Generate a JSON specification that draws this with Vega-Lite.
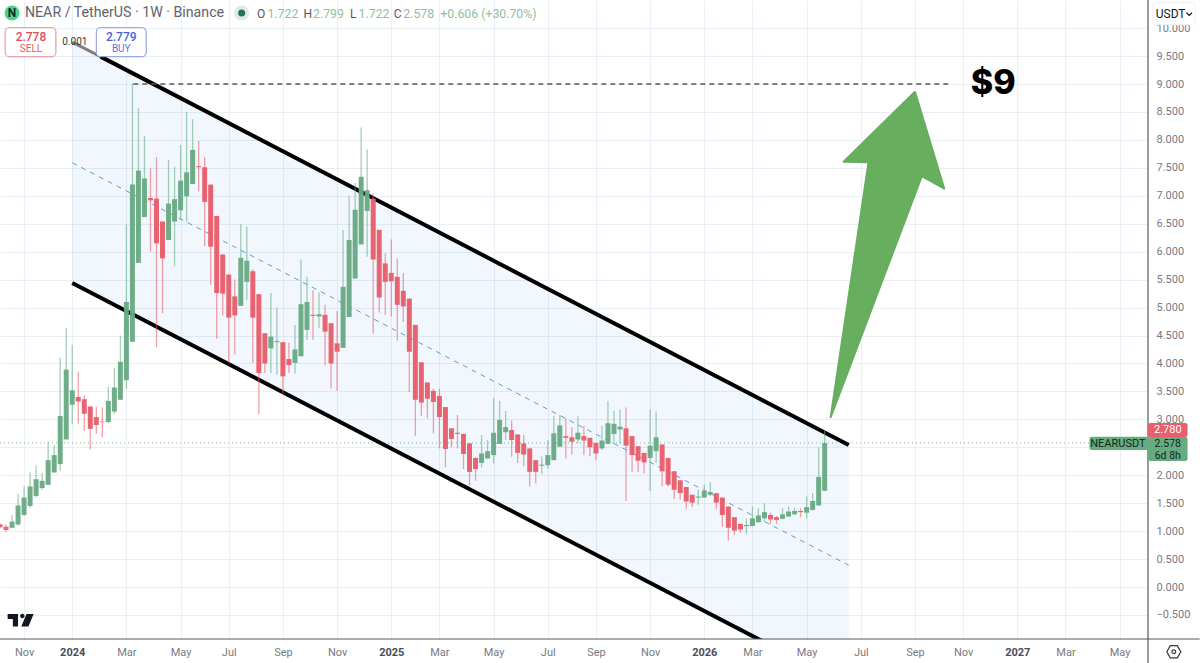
{
"$schema":"https://vega.github.io/schema/vega-lite/v6.json",
"width":1148,"height":639,
"autosize":{"type":"none"},
"padding":{"left":0,"top":0,"right":52,"bottom":24},
"background":"white",
"config":{"view":{"stroke":null},"text":{"font":"Roboto"}},
"datasets":{
"candles":[
{"date":"2023-10-09","o":1.12,"h":1.14,"l":1.05,"c":1.07},
{"date":"2023-10-16","o":1.08,"h":1.12,"l":0.98,"c":1.02},
{"date":"2023-10-23","o":1.06,"h":1.29,"l":1.05,"c":1.17},
{"date":"2023-10-30","o":1.12,"h":1.67,"l":1.10,"c":1.46},
{"date":"2023-11-06","o":1.29,"h":1.80,"l":1.27,"c":1.60},
{"date":"2023-11-13","o":1.45,"h":2.05,"l":1.42,"c":1.80},
{"date":"2023-11-20","o":1.63,"h":2.18,"l":1.60,"c":1.93},
{"date":"2023-11-27","o":1.77,"h":2.04,"l":1.74,"c":1.90},
{"date":"2023-12-04","o":1.83,"h":2.61,"l":1.82,"c":2.27},
{"date":"2023-12-11","o":2.05,"h":2.54,"l":2.05,"c":2.36},
{"date":"2023-12-18","o":2.20,"h":4.10,"l":2.08,"c":3.06},
{"date":"2023-12-25","o":2.64,"h":4.63,"l":2.64,"c":3.89},
{"date":"2024-01-01","o":3.26,"h":4.33,"l":2.91,"c":3.52},
{"date":"2024-01-08","o":3.40,"h":3.85,"l":2.92,"c":3.32},
{"date":"2024-01-15","o":3.36,"h":3.43,"l":2.79,"c":3.10},
{"date":"2024-01-22","o":3.23,"h":3.23,"l":2.46,"c":2.83},
{"date":"2024-01-29","o":3.04,"h":3.23,"l":2.74,"c":2.90},
{"date":"2024-02-05","o":2.96,"h":3.21,"l":2.68,"c":2.95},
{"date":"2024-02-12","o":2.95,"h":3.58,"l":2.94,"c":3.33},
{"date":"2024-02-19","o":3.14,"h":3.92,"l":3.10,"c":3.57},
{"date":"2024-02-26","o":3.35,"h":4.50,"l":3.35,"c":4.03},
{"date":"2024-03-04","o":3.70,"h":6.49,"l":3.54,"c":5.10},
{"date":"2024-03-11","o":4.39,"h":9.01,"l":4.39,"c":7.20},
{"date":"2024-03-18","o":5.80,"h":8.57,"l":5.80,"c":7.45},
{"date":"2024-03-25","o":6.62,"h":8.07,"l":6.62,"c":7.31},
{"date":"2024-04-01","o":6.96,"h":7.49,"l":6.00,"c":6.92},
{"date":"2024-04-08","o":6.95,"h":7.69,"l":4.29,"c":6.15},
{"date":"2024-04-15","o":6.54,"h":6.54,"l":4.90,"c":5.88},
{"date":"2024-04-22","o":6.21,"h":7.64,"l":6.21,"c":6.86},
{"date":"2024-04-29","o":6.54,"h":7.52,"l":5.74,"c":6.94},
{"date":"2024-05-06","o":6.74,"h":7.91,"l":6.57,"c":7.27},
{"date":"2024-05-13","o":6.99,"h":8.50,"l":6.54,"c":7.42},
{"date":"2024-05-20","o":7.21,"h":8.37,"l":7.21,"c":7.82},
{"date":"2024-05-27","o":7.53,"h":7.98,"l":7.08,"c":7.51},
{"date":"2024-06-03","o":7.51,"h":7.69,"l":6.10,"c":6.89},
{"date":"2024-06-10","o":7.20,"h":7.20,"l":5.41,"c":6.09},
{"date":"2024-06-17","o":6.64,"h":6.64,"l":4.44,"c":5.26},
{"date":"2024-06-24","o":5.95,"h":5.95,"l":4.86,"c":5.25},
{"date":"2024-07-01","o":5.59,"h":5.59,"l":4.01,"c":4.82},
{"date":"2024-07-08","o":5.20,"h":5.50,"l":4.16,"c":4.86},
{"date":"2024-07-15","o":5.03,"h":6.49,"l":5.03,"c":5.89},
{"date":"2024-07-22","o":5.46,"h":6.45,"l":5.14,"c":5.84},
{"date":"2024-07-29","o":5.65,"h":5.69,"l":4.01,"c":4.82},
{"date":"2024-08-05","o":5.24,"h":5.24,"l":3.09,"c":3.83},
{"date":"2024-08-12","o":4.54,"h":4.54,"l":3.83,"c":4.00},
{"date":"2024-08-19","o":4.27,"h":5.26,"l":3.83,"c":4.48},
{"date":"2024-08-26","o":4.38,"h":5.00,"l":3.80,"c":4.40},
{"date":"2024-09-02","o":4.38,"h":4.38,"l":3.45,"c":3.77},
{"date":"2024-09-09","o":4.08,"h":4.37,"l":3.83,"c":3.97},
{"date":"2024-09-16","o":4.01,"h":4.69,"l":3.82,"c":4.25},
{"date":"2024-09-23","o":4.13,"h":5.86,"l":4.13,"c":5.06},
{"date":"2024-09-30","o":4.60,"h":5.55,"l":4.42,"c":5.10},
{"date":"2024-10-07","o":4.87,"h":5.31,"l":4.42,"c":4.85},
{"date":"2024-10-14","o":4.84,"h":5.27,"l":4.63,"c":4.88},
{"date":"2024-10-21","o":4.87,"h":5.05,"l":3.97,"c":4.57},
{"date":"2024-10-28","o":4.72,"h":4.72,"l":3.55,"c":4.00},
{"date":"2024-11-04","o":4.36,"h":4.94,"l":3.51,"c":4.21},
{"date":"2024-11-11","o":4.28,"h":6.39,"l":4.28,"c":5.37},
{"date":"2024-11-18","o":4.83,"h":7.00,"l":4.83,"c":6.21},
{"date":"2024-11-25","o":5.52,"h":7.23,"l":5.52,"c":6.75},
{"date":"2024-12-02","o":6.13,"h":8.22,"l":6.13,"c":7.34},
{"date":"2024-12-09","o":6.73,"h":7.83,"l":5.91,"c":7.10},
{"date":"2024-12-16","o":6.95,"h":7.04,"l":4.53,"c":5.86},
{"date":"2024-12-23","o":6.39,"h":6.39,"l":4.91,"c":5.18},
{"date":"2024-12-30","o":5.79,"h":5.97,"l":4.87,"c":5.46},
{"date":"2025-01-06","o":5.62,"h":6.22,"l":4.84,"c":5.47},
{"date":"2025-01-13","o":5.55,"h":5.88,"l":4.41,"c":5.05},
{"date":"2025-01-20","o":5.30,"h":5.62,"l":4.74,"c":5.02},
{"date":"2025-01-27","o":5.16,"h":5.16,"l":3.49,"c":4.21},
{"date":"2025-02-03","o":4.69,"h":4.69,"l":2.70,"c":3.35},
{"date":"2025-02-10","o":4.02,"h":4.02,"l":3.06,"c":3.30},
{"date":"2025-02-17","o":3.66,"h":3.66,"l":3.02,"c":3.37},
{"date":"2025-02-24","o":3.51,"h":3.55,"l":2.75,"c":3.31},
{"date":"2025-03-03","o":3.42,"h":3.55,"l":2.48,"c":3.04},
{"date":"2025-03-10","o":3.22,"h":3.22,"l":2.14,"c":2.47},
{"date":"2025-03-17","o":2.84,"h":2.84,"l":2.50,"c":2.65},
{"date":"2025-03-24","o":2.76,"h":3.08,"l":2.48,"c":2.74},
{"date":"2025-03-31","o":2.74,"h":2.74,"l":2.11,"c":2.38},
{"date":"2025-04-07","o":2.57,"h":2.57,"l":1.82,"c":2.06},
{"date":"2025-04-14","o":2.31,"h":2.31,"l":1.90,"c":2.11},
{"date":"2025-04-21","o":2.22,"h":2.72,"l":2.14,"c":2.39},
{"date":"2025-04-28","o":2.30,"h":2.63,"l":2.30,"c":2.43},
{"date":"2025-05-05","o":2.36,"h":3.38,"l":2.21,"c":2.76},
{"date":"2025-05-12","o":2.56,"h":3.33,"l":2.56,"c":2.99},
{"date":"2025-05-19","o":2.77,"h":3.15,"l":2.63,"c":2.86},
{"date":"2025-05-26","o":2.81,"h":2.98,"l":2.33,"c":2.63},
{"date":"2025-06-02","o":2.73,"h":2.73,"l":2.22,"c":2.40},
{"date":"2025-06-09","o":2.57,"h":2.72,"l":2.16,"c":2.37},
{"date":"2025-06-16","o":2.48,"h":2.48,"l":1.80,"c":2.06},
{"date":"2025-06-23","o":2.27,"h":2.27,"l":1.85,"c":2.06},
{"date":"2025-06-30","o":2.17,"h":2.34,"l":2.02,"c":2.19},
{"date":"2025-07-07","o":2.18,"h":2.63,"l":2.12,"c":2.36},
{"date":"2025-07-14","o":2.27,"h":3.06,"l":2.27,"c":2.75},
{"date":"2025-07-21","o":2.51,"h":3.08,"l":2.51,"c":2.89},
{"date":"2025-07-28","o":2.70,"h":3.02,"l":2.30,"c":2.67},
{"date":"2025-08-04","o":2.68,"h":2.86,"l":2.37,"c":2.60},
{"date":"2025-08-11","o":2.64,"h":3.05,"l":2.57,"c":2.76},
{"date":"2025-08-18","o":2.70,"h":2.88,"l":2.36,"c":2.62},
{"date":"2025-08-25","o":2.67,"h":2.67,"l":2.34,"c":2.50},
{"date":"2025-09-01","o":2.58,"h":2.58,"l":2.27,"c":2.39},
{"date":"2025-09-08","o":2.48,"h":2.88,"l":2.45,"c":2.62},
{"date":"2025-09-15","o":2.56,"h":3.33,"l":2.56,"c":2.93},
{"date":"2025-09-22","o":2.74,"h":3.15,"l":2.56,"c":2.92},
{"date":"2025-09-29","o":2.82,"h":3.17,"l":2.57,"c":2.87},
{"date":"2025-10-06","o":2.84,"h":3.21,"l":1.54,"c":2.53},
{"date":"2025-10-13","o":2.70,"h":2.70,"l":2.06,"c":2.36},
{"date":"2025-10-20","o":2.52,"h":2.52,"l":2.06,"c":2.26},
{"date":"2025-10-27","o":2.40,"h":2.40,"l":2.03,"c":2.23},
{"date":"2025-11-03","o":2.31,"h":3.18,"l":1.72,"c":2.53},
{"date":"2025-11-10","o":2.43,"h":3.14,"l":2.22,"c":2.68},
{"date":"2025-11-17","o":2.55,"h":2.55,"l":1.80,"c":2.07},
{"date":"2025-11-24","o":2.31,"h":2.31,"l":1.80,"c":1.83},
{"date":"2025-12-01","o":2.07,"h":2.07,"l":1.57,"c":1.74},
{"date":"2025-12-08","o":1.91,"h":1.91,"l":1.56,"c":1.68},
{"date":"2025-12-15","o":1.79,"h":1.79,"l":1.39,"c":1.53},
{"date":"2025-12-22","o":1.65,"h":1.65,"l":1.43,"c":1.51},
{"date":"2025-12-29","o":1.60,"h":1.74,"l":1.47,"c":1.62},
{"date":"2026-01-05","o":1.60,"h":1.83,"l":1.60,"c":1.72},
{"date":"2026-01-12","o":1.65,"h":1.88,"l":1.63,"c":1.70},
{"date":"2026-01-19","o":1.68,"h":1.68,"l":1.39,"c":1.51},
{"date":"2026-01-26","o":1.60,"h":1.60,"l":1.08,"c":1.29},
{"date":"2026-02-02","o":1.44,"h":1.44,"l":0.83,"c":1.06},
{"date":"2026-02-09","o":1.25,"h":1.25,"l":0.93,"c":1.01},
{"date":"2026-02-16","o":1.13,"h":1.13,"l":0.97,"c":1.03},
{"date":"2026-02-23","o":1.09,"h":1.23,"l":0.95,"c":1.11},
{"date":"2026-03-02","o":1.09,"h":1.44,"l":1.09,"c":1.23},
{"date":"2026-03-09","o":1.16,"h":1.41,"l":1.15,"c":1.28},
{"date":"2026-03-16","o":1.23,"h":1.50,"l":1.17,"c":1.34},
{"date":"2026-03-23","o":1.29,"h":1.33,"l":1.13,"c":1.21},
{"date":"2026-03-30","o":1.25,"h":1.27,"l":1.13,"c":1.20},
{"date":"2026-04-06","o":1.22,"h":1.41,"l":1.21,"c":1.30},
{"date":"2026-04-13","o":1.26,"h":1.44,"l":1.25,"c":1.35},
{"date":"2026-04-20","o":1.30,"h":1.42,"l":1.29,"c":1.36},
{"date":"2026-04-27","o":1.36,"h":1.41,"l":1.25,"c":1.34},
{"date":"2026-05-04","o":1.33,"h":1.62,"l":1.23,"c":1.43},
{"date":"2026-05-11","o":1.38,"h":1.68,"l":1.37,"c":1.54},
{"date":"2026-05-18","o":1.46,"h":2.50,"l":1.46,"c":1.97},
{"date":"2026-05-25","o":1.722,"h":2.799,"l":1.722,"c":2.578}
]
},
"encoding":{
"x":{"field":"date","type":"temporal","title":null,
"scale":{"type":"utc","domain":["2023-10-09","2027-06-05"],"padding":0},
"axis":{"orient":"bottom","domain":false,"ticks":false,"grid":true,"gridColor":"#e9eff5","gridWidth":1,
"labelFont":"Roboto","labelFontSize":11,"labelPadding":7,"labelOverlap":false,"labelFlush":false,"labelBound":false,
"labelColor":{"condition":{"test":"utcmonth(datum.value)==0","value":"#4a4d55"},"value":"#777a84"},
"labelFontWeight":{"condition":{"test":"utcmonth(datum.value)==0","value":"bold"},"value":"normal"},
"labelExpr":"utcmonth(datum.value)==0 ? utcFormat(datum.value,'%Y') : utcFormat(datum.value,'%b')",
"values":["2023-11-06","2024-01-01","2024-03-04","2024-05-06","2024-07-01","2024-09-02","2024-11-04","2025-01-06","2025-03-03","2025-05-05","2025-07-07","2025-09-01","2025-11-03","2026-01-05","2026-03-02","2026-05-04","2026-07-06","2026-09-07","2026-11-02","2027-01-04","2027-03-01","2027-05-03"]}},
"y":{"field":"v","type":"quantitative","title":null,
"scale":{"domain":[-0.93,10.503],"nice":false,"zero":false},
"axis":{"orient":"right","domain":false,"ticks":false,"grid":true,"gridColor":"#e9eff5","gridWidth":1,
"labelFont":"Roboto","labelFontSize":11,"labelPadding":8,"labelColor":"#777a84","labelOverlap":false,"labelFlush":false,"labelBound":false,
"labelExpr":"datum.value==2.5 ? '' : format(datum.value,'.3f')",
"values":[-0.5,0,0.5,1,1.5,2,2.5,3,3.5,4,4.5,5,5.5,6,6.5,7,7.5,8,8.5,9,9.5,10]}}
},
"layer":[
{"data":{"values":[{"date":"2024-01-01","v":9.75,"v2":5.44},{"date":"2026-06-22","v":2.54,"v2":-1.77}]},
 "mark":{"type":"area","clip":true,"fill":"#4f9be8","opacity":0.08},
 "encoding":{"y2":{"field":"v2"}}},
{"data":{"values":[{"date":"2024-01-01","v":7.59},{"date":"2026-06-22","v":0.39}]},
 "mark":{"type":"line","stroke":"#5f9fcb","strokeWidth":1,"strokeDash":[5,5]}},
{"data":{"values":[{"date":"2023-10-09","v":2.578},{"date":"2027-03-29","v":2.578}]},
 "mark":{"type":"line","stroke":"#7fb598","strokeWidth":1,"strokeDash":[1,3]}},
{"data":{"values":[{"date":"2024-01-01","v":9.75},{"date":"2024-02-03","v":9.49}]},
 "mark":{"type":"line","stroke":"#808080","strokeWidth":3}},
{"data":{"values":[{"line":"upper","date":"2024-02-03","v":9.49},{"line":"upper","date":"2026-06-22","v":2.54},{"line":"lower","date":"2024-01-01","v":5.44},{"line":"lower","date":"2026-06-22","v":-1.77}]},
 "mark":{"type":"line","stroke":"#000000","strokeWidth":4,"clip":true},
 "encoding":{"detail":{"field":"line"}}},
{"data":{"name":"candles"},
 "mark":{"type":"rule","strokeWidth":1.3,"opacity":0.58},
 "encoding":{"y":{"field":"l","type":"quantitative","title":null,"scale":{"domain":[-0.93,10.503],"nice":false,"zero":false}},"y2":{"field":"h"},
 "color":{"condition":{"test":"datum.c>=datum.o","value":"#68aa84"},"value":"#e85d6a"}}},
{"data":{"name":"candles"},
 "mark":{"type":"bar","size":5,"opacity":0.95},
 "encoding":{"y":{"field":"o","type":"quantitative","title":null,"scale":{"domain":[-0.93,10.503],"nice":false,"zero":false}},"y2":{"field":"c"},
 "color":{"condition":{"test":"datum.c>=datum.o","value":"#68aa84"},"value":"#e85d6a"}}},
{"data":{"values":[{"date":"2024-03-12","v":9.0},{"date":"2026-10-20","v":9.0}]},
 "mark":{"type":"line","stroke":"#55585f","strokeWidth":1.3,"strokeDash":[5,4]}},
{"data":{"values":[{"ord":1,"date":"2026-09-07","v":8.86},{"ord":2,"date":"2026-10-11","v":7.13},{"ord":3,"date":"2026-09-15","v":7.35},{"ord":4,"date":"2026-06-01","v":3.04},{"ord":5,"date":"2026-07-15","v":7.60},{"ord":6,"date":"2026-06-16","v":7.61},{"ord":7,"date":"2026-09-07","v":8.86}]},
 "mark":{"type":"line","fill":"#67ae5f","stroke":"#67ae5f","strokeWidth":2,"strokeJoin":"round"},
 "encoding":{"order":{"field":"ord"}}},
{"data":{"values":[{"date":"2026-12-07","v":9.0,"t":"$9"}]},
 "mark":{"type":"text","font":"Inter","fontWeight":800,"fontSize":34,"color":"#000000","align":"center","baseline":"middle"},
 "encoding":{"text":{"field":"t"}}},
{"data":{"values":[{"date":"2027-06-05","v":10.503,"v2":-1.36}]},
 "mark":{"type":"rule","color":"#55585f","strokeWidth":1.2,"clip":false},
 "encoding":{"y2":{"field":"v2"}}},
{"data":{"values":[{"date":"2023-10-09","date2":"2027-08-04","v":-0.93}]},
 "mark":{"type":"rule","color":"#55585f","strokeWidth":1.2,"clip":false},
 "encoding":{"x2":{"field":"date2"}}},
{"data":{"values":[{"date":"2027-06-10","date2":"2027-07-30","v":10.46,"v2":10.06}]},
 "mark":{"type":"rect","fill":"#ffffff","stroke":"#eef0f3","cornerRadius":4,"clip":false},
 "encoding":{"x2":{"field":"date2"},"y2":{"field":"v2"}}},
{"data":{"values":[{"date":"2027-06-14","v":10.247,"t":"USDT"}]},
 "mark":{"type":"text","fontSize":12,"color":"#131722","align":"left","baseline":"middle"},
 "encoding":{"text":{"field":"t"}}},
{"data":{"values":[{"date":"2027-07-23","v":10.25}]},
 "mark":{"type":"point","shape":"M-1,-.5 L0,.5 L1,-.5","size":30,"stroke":"#131722","strokeWidth":1.2,"fill":null,"opacity":1}},
{"data":{"values":[{"date":"2027-03-29","date2":"2027-06-05","v":2.689,"v2":2.451}]},
 "mark":{"type":"rect","fill":"#67ab80","cornerRadius":2},
 "encoding":{"x2":{"field":"date2"},"y2":{"field":"v2"}}},
{"data":{"values":[{"date":"2027-05-01","v":2.567,"t":"NEARUSDT"}]},
 "mark":{"type":"text","fontSize":11,"color":"#10291c","align":"center","baseline":"middle"},
 "encoding":{"text":{"field":"t"}}},
{"data":{"values":[{"date":"2027-06-05","date2":"2027-07-21","v":2.934,"v2":2.684}]},
 "mark":{"type":"rect","fill":"#e9606c","cornerRadius":2,"clip":false},
 "encoding":{"x2":{"field":"date2"},"y2":{"field":"v2"}}},
{"data":{"values":[{"date":"2027-06-05","date2":"2027-07-21","v":2.684,"v2":2.254}]},
 "mark":{"type":"rect","fill":"#67ab80","cornerRadius":2,"clip":false},
 "encoding":{"x2":{"field":"date2"},"y2":{"field":"v2"}}},
{"data":{"values":[{"date":"2027-06-28","v":2.81,"t":"2.780"}]},
 "mark":{"type":"text","fontSize":11,"color":"#ffffff","align":"center","baseline":"middle"},
 "encoding":{"text":{"field":"t"}}},
{"data":{"values":[{"date":"2027-06-28","v":2.567,"t":"2.578"},{"date":"2027-06-28","v":2.35,"t":"6d 8h"}]},
 "mark":{"type":"text","fontSize":10.5,"color":"#10291c","align":"center","baseline":"middle"},
 "encoding":{"text":{"field":"t"}}},
{"data":{"values":[{"date":"2027-07-05","v":-1.158}]},
 "mark":{"type":"point","shape":"M-1,0 L-.5,-.87 L.5,-.87 L1,0 L.5,.87 L-.5,.87 Z","size":196,"stroke":"#33363d","strokeWidth":1.2,"fill":null,"opacity":1}},
{"data":{"values":[{"date":"2027-07-05","v":-1.158}]},
 "mark":{"type":"point","shape":"circle","size":14,"stroke":"#33363d","strokeWidth":1.2,"fill":null,"opacity":1}},
{"data":{"values":[{"date":"2023-11-02","v":-0.596}]},
 "mark":{"type":"point","shape":"M-1,-.48 H-.2 V.48 H-.6 V-.1 H-1 Z M-.04,-.33 a.17,.17 0 1,0 .34,0 a.17,.17 0 1,0 -.34,0 Z M.45,-.48 H1 L.6,.48 H.05 Z","size":676,"fill":"#131722","stroke":null,"filled":true,"opacity":1}},
{"data":{"values":[{"date":"2023-10-23","v":10.27}]},
 "mark":{"type":"point","shape":"circle","size":225,"fill":"#4fd08f","stroke":null,"filled":true,"opacity":1}},
{"data":{"values":[{"date":"2023-10-23","v":10.262,"t":"N"}]},
 "mark":{"type":"text","fontSize":12,"fontWeight":"bold","color":"#0d2b20","align":"center","baseline":"middle"},
 "encoding":{"text":{"field":"t"}}},
{"data":{"values":[{"date":"2023-11-07","v":10.262,"t":"NEAR / TetherUS · 1W · Binance"}]},
 "mark":{"type":"text","fontSize":14.2,"color":"#5f636c","align":"left","baseline":"middle"},
 "encoding":{"text":{"field":"t"}}},
{"data":{"values":[{"date":"2024-07-16","v":10.27}]},
 "mark":{"type":"point","shape":"circle","size":225,"fill":"#dfeae8","stroke":null,"filled":true,"opacity":1}},
{"data":{"values":[{"date":"2024-07-16","v":10.27}]},
 "mark":{"type":"point","shape":"circle","size":49,"fill":"#2a6e5e","stroke":null,"filled":true,"opacity":1}},
{"data":{"values":[{"date":"2024-08-03","v":10.255,"t":"O"},{"date":"2024-09-26","v":10.255,"t":"H"},{"date":"2024-11-19","v":10.255,"t":"L"},{"date":"2025-01-09","v":10.255,"t":"C"}]},
 "mark":{"type":"text","fontSize":12,"color":"#555962","align":"left","baseline":"middle"},
 "encoding":{"text":{"field":"t"}}},
{"data":{"values":[{"date":"2024-08-15","v":10.255,"t":"1.722"},{"date":"2024-10-07","v":10.255,"t":"2.799"},{"date":"2024-11-29","v":10.255,"t":"1.722"},{"date":"2025-01-20","v":10.255,"t":"2.578"},{"date":"2025-03-04","v":10.255,"t":"+0.606 (+30.70%)"}]},
 "mark":{"type":"text","fontSize":12.3,"color":"#8fc0a3","align":"left","baseline":"middle"},
 "encoding":{"text":{"field":"t"}}},
{"data":{"values":[{"date":"2023-10-15","date2":"2023-12-13","v":10.007,"v2":9.488}]},
 "mark":{"type":"rect","fill":"#ffffff","stroke":"#e58a92","strokeWidth":1,"cornerRadius":4},
 "encoding":{"x2":{"field":"date2"},"y2":{"field":"v2"}}},
{"data":{"values":[{"date":"2024-01-29","date2":"2024-03-27","v":10.007,"v2":9.488}]},
 "mark":{"type":"rect","fill":"#ffffff","stroke":"#7d92e0","strokeWidth":1,"cornerRadius":4},
 "encoding":{"x2":{"field":"date2"},"y2":{"field":"v2"}}},
{"data":{"values":[{"date":"2023-11-14","v":9.84,"t":"2.778"}]},
 "mark":{"type":"text","fontSize":12,"fontWeight":500,"color":"#d9505c","align":"center","baseline":"middle"},
 "encoding":{"text":{"field":"t"}}},
{"data":{"values":[{"date":"2023-11-14","v":9.63,"t":"SELL"}]},
 "mark":{"type":"text","fontSize":10,"color":"#d9606b","align":"center","baseline":"middle"},
 "encoding":{"text":{"field":"t"}}},
{"data":{"values":[{"date":"2024-02-27","v":9.84,"t":"2.779"}]},
 "mark":{"type":"text","fontSize":12,"fontWeight":500,"color":"#4a63d8","align":"center","baseline":"middle"},
 "encoding":{"text":{"field":"t"}}},
{"data":{"values":[{"date":"2024-02-27","v":9.63,"t":"BUY"}]},
 "mark":{"type":"text","fontSize":10,"color":"#5a72dc","align":"center","baseline":"middle"},
 "encoding":{"text":{"field":"t"}}},
{"data":{"values":[{"date":"2024-01-04","v":9.75,"t":"0.001"}]},
 "mark":{"type":"text","fontSize":10,"color":"#33363d","align":"center","baseline":"middle"},
 "encoding":{"text":{"field":"t"}}}
]
}
